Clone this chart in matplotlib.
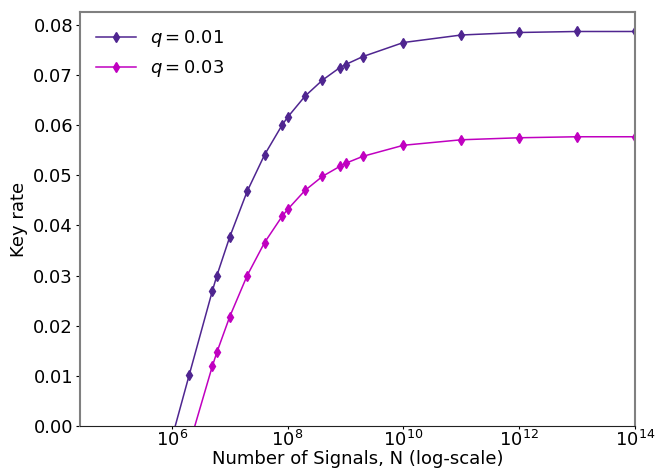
import numpy as np
import matplotlib
matplotlib.use('Agg')
import matplotlib.pyplot as plt
from matplotlib.ticker import NullLocator

# data
N = [1e6, 2e6, 5e6, 6e6, 1e7, 2e7, 4e7, 8e7, 1e8, 2e8, 4e8, 8e8, 1e9, 2e9,
     1e10, 1e11, 1e12, 1e13, 1e14]
rate_q01 = [-0.0025, 0.0102, 0.0269, 0.0300, 0.0377, 0.0468, 0.0541, 0.0600, 0.0616,
            0.0658, 0.0690, 0.0715, 0.0721, 0.0737, 0.0765, 0.0780, 0.0785, 0.0787, 0.0787]
rate_q03 = [-0.0200, -0.0038, 0.0119, 0.0147, 0.0218, 0.0300, 0.0366, 0.0418, 0.0432,
            0.0470, 0.0498, 0.0518, 0.0524, 0.0538, 0.0560, 0.0571, 0.0575, 0.0577, 0.0577]
labels = ['$q = 0.01$', '$q = 0.03$']
colors = ['#4f2590', '#c000c0']
xticks = [1e6, 1e8, 1e10, 1e12, 1e14]
xticklabels = ['$10^{6}$', '$10^{8}$', '$10^{10}$', '$10^{12}$', '$10^{14}$']

fig = plt.figure(figsize=(6.56, 4.70), dpi=100)
ax = fig.add_axes([0.122, 0.0936, 0.846, 0.881])

for y, lab, c in zip([rate_q01, rate_q03], labels, colors):
    ax.plot(N, y, marker='d', markersize=5, linewidth=1.1, color=c, label=lab)

ax.set_xscale('log')
ax.set_xlim(2.6e4, 1e14)
ax.set_ylim(0, 0.0826)
ax.set_xticks(xticks)
ax.set_xticklabels(xticklabels)
ax.xaxis.set_minor_locator(NullLocator())
yt = np.arange(0, 0.081, 0.01)
ax.set_yticks(yt)
ax.set_yticklabels(['%.2f' % v for v in yt])
ax.tick_params(labelsize=13)
ax.tick_params(axis='x', length=2, pad=0.5)
ax.tick_params(axis='y', length=3, pad=2)

ax.set_xlabel('Number of Signals, N (log-scale)', fontsize=13)
ax.xaxis.set_label_coords(0.5, -0.058)
ax.set_ylabel('Key rate', fontsize=13)

for s in ['left', 'right', 'top']:
    ax.spines[s].set_color('#808080')
    ax.spines[s].set_linewidth(1.5)
ax.spines['bottom'].set_color('#222222')

ax.legend(loc='upper left', frameon=False, fontsize=13, handlelength=2.2)

fig.savefig('out.png', dpi=100)
